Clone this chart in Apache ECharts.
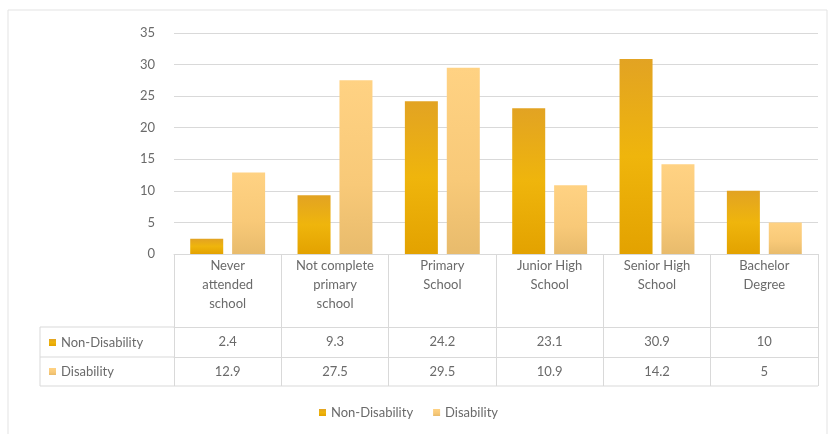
<!DOCTYPE html>
<html>
<head>
<meta charset="utf-8">
<script src="https://cdn.jsdelivr.net/npm/echarts@6/dist/echarts.min.js"></script>
<style>
    html, body { margin: 0; padding: 0; background: #fff; }
    #chart { width: 829px; height: 434px; }
</style>
</head>
<body>
<div id="chart"></div>
<script>
const categories = [
    'Never\nattended\nschool',
    'Not complete\nprimary\nschool',
    'Primary\nSchool',
    'Junior High\nSchool',
    'Senior High\nSchool',
    'Bachelor\nDegree'
]
const nonDisability = [2.4, 9.3, 24.2, 23.1, 30.9, 10]
const disability = [12.9, 27.5, 29.5, 10.9, 14.2, 5]
const seriesNames = ['Non-Disability', 'Disability']

const textColor = '#6a6a6a'
const lineColor = '#d9d9d9'
const font = 'Lato, "Open Sans", sans-serif'

const darkGold = new echarts.graphic.LinearGradient(0, 0, 0, 1, [
    { offset: 0, color: '#e2a323' },
    { offset: 0.5, color: '#efb50c' },
    { offset: 1, color: '#e3a200' }
])
const lightGold = new echarts.graphic.LinearGradient(0, 0, 0, 1, [
    { offset: 0, color: '#ffd283' },
    { offset: 0.6, color: '#f8c978' },
    { offset: 1, color: '#e8bb6c' }
])

// table rows under the axis (lines only, text comes from the axes)
const tableLine = (x1, y1, x2, y2) => ({
    type: 'line',
    shape: { x1, y1, x2, y2 },
    style: { stroke: lineColor, lineWidth: 1 },
    silent: true
})

const chart = echarts.init(document.getElementById('chart'))
chart.setOption({
    animation: false,
    textStyle: { fontFamily: font },
    color: ['#e8aa0c', '#f7cb7c'],
    grid: {
        left: 174,
        right: 11,
        top: 33,
        bottom: 180
    },
    legend: [
        {
            data: seriesNames,
            left: 314,
            top: 401,
            itemWidth: 7,
            itemHeight: 7,
            itemGap: 20,
            icon: 'rect',
            textStyle: { color: textColor, fontSize: 13, fontFamily: font }
        },
        {
            data: seriesNames,
            orient: 'vertical',
            left: 44,
            top: 331,
            itemWidth: 7,
            itemHeight: 7,
            itemGap: 16,
            icon: 'rect',
            selectedMode: false,
            textStyle: { color: textColor, fontSize: 13, fontFamily: font }
        }
    ],
    xAxis: [
        {
            type: 'category',
            data: categories,
            axisLine: { show: true, lineStyle: { color: lineColor } },
            axisTick: { show: true, length: 132, lineStyle: { color: lineColor } },
            axisLabel: {
                color: textColor,
                fontSize: 13,
                lineHeight: 19,
                margin: 2,
                interval: 0
            }
        },
        {
            type: 'category',
            data: nonDisability.map(String),
            position: 'bottom',
            offset: 73,
            axisLine: { show: true, lineStyle: { color: lineColor } },
            axisTick: { show: false },
            axisLabel: { color: textColor, fontSize: 13, margin: 8, interval: 0 }
        },
        {
            type: 'category',
            data: disability.map(String),
            position: 'bottom',
            offset: 103,
            axisLine: { show: true, lineStyle: { color: lineColor } },
            axisTick: { show: false },
            axisLabel: { color: textColor, fontSize: 13, margin: 8, interval: 0 }
        }
    ],
    yAxis: {
        type: 'value',
        min: 0,
        max: 35,
        interval: 5,
        axisLine: { show: false },
        axisTick: { show: false },
        axisLabel: { color: textColor, fontSize: 13, margin: 19 },
        splitLine: { lineStyle: { color: lineColor } }
    },
    series: [
        {
            name: seriesNames[0],
            type: 'bar',
            data: nonDisability,
            barWidth: 33,
            barGap: '27%',
            itemStyle: { color: darkGold }
        },
        {
            name: seriesNames[1],
            type: 'bar',
            data: disability,
            barWidth: 33,
            itemStyle: { color: lightGold }
        }
    ],
    graphic: [
        {
            type: 'rect',
            shape: { x: 8, y: 10, width: 819, height: 440 },
            style: { fill: 'none', stroke: '#e3e3e3', lineWidth: 1 },
            silent: true,
            z: -10
        },
        tableLine(40, 327, 174, 327),
        tableLine(40, 357, 174, 357),
        tableLine(40, 386, 818, 386),
        tableLine(40, 327, 40, 386)
    ]
})
</script>
</body>
</html>
